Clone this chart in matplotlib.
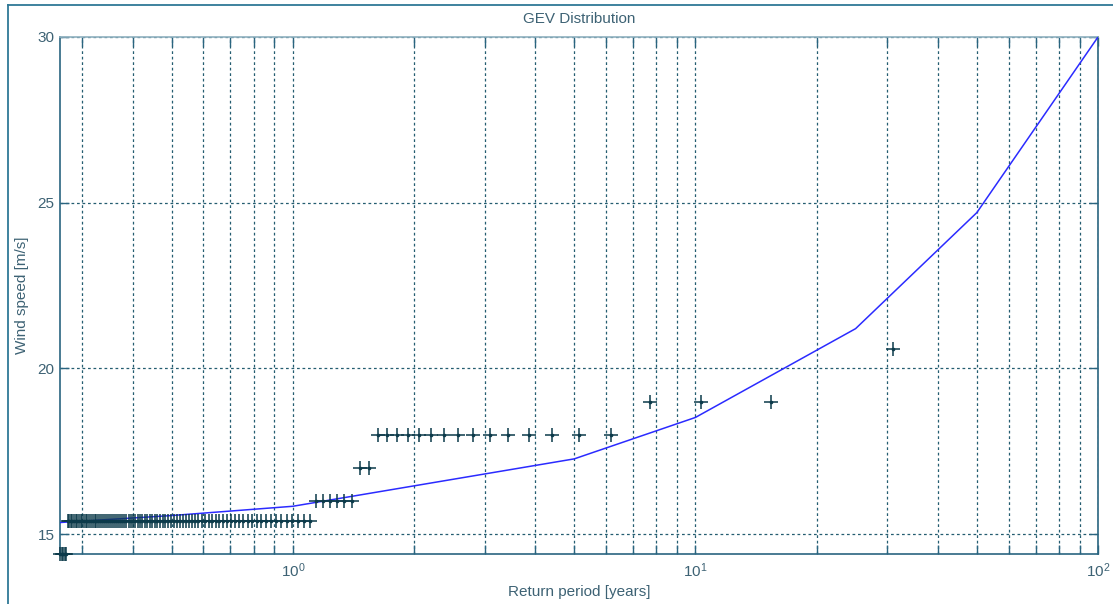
## GEV fit of wind speed extremes vs. empirical return periods
import numpy as np
import matplotlib
matplotlib.use('Agg')
from matplotlib import pyplot as plt
from matplotlib.lines import Line2D
from matplotlib.ticker import FixedLocator, LogLocator, NullFormatter

### Data ###
# observed wind speeds (sorted, largest first) and how often each occurs
speed_levels = [20.6, 19.0, 18.0, 17.0, 16.0, 15.4, 14.4]
level_counts = [1, 3, 15, 2, 6, 85, 5]
RECORD_YEARS = 30.9     # length of record used for the plotting position

# fitted GEV return levels
fit_periods = [0.264, 0.5, 1, 5, 10, 25, 50, 100]
fit_speeds = [15.35, 15.56, 15.84, 17.27, 18.52, 21.2, 24.7, 30.0]

y_ticks = [15, 20, 25, 30]
x_ticks = [1, 10, 100]
x_ticklabels = [r'$\mathregular{10^{0}}$', r'$\mathregular{10^{1}}$', r'$\mathregular{10^{2}}$']
##############

AX_COL = '#2a6580'
TXT_COL = '#3d6274'
GRID_COL = '#245d70'
MARK_COL = '#0c3a4a'

plt.rcParams['font.family'] = ['Liberation Sans', 'DejaVu Sans']
plt.rcParams['font.size'] = 11
plt.rcParams['mathtext.fontset'] = 'custom'
plt.rcParams['mathtext.rm'] = 'Liberation Sans'

speeds = np.repeat(speed_levels, level_counts)
rank = np.arange(1, len(speeds) + 1)
return_period = RECORD_YEARS / rank

fig = plt.figure(figsize=(11.13, 6.04), dpi=100)
ax = fig.add_axes([60/1113, 50/604, 1038/1113, 517/604])

ax.set_xscale('log')
ax.set_xlim(return_period.min(), 100)
ax.set_ylim(14.4, 30)

ax.plot(fit_periods, fit_speeds, color='#2b2bff', lw=1.1, zorder=3)
ax.plot(return_period, speeds, ls='none', marker='+', ms=10, mew=1.1,
        color=MARK_COL, clip_on=False, zorder=4)
ax.plot(return_period, speeds, ls='none', marker='o', ms=2.6, mew=0,
        color=MARK_COL, clip_on=False, zorder=4)

ax.xaxis.set_major_locator(FixedLocator(x_ticks))
ax.set_xticklabels(x_ticklabels)
ax.xaxis.set_minor_locator(LogLocator(base=10, subs=np.arange(2, 10)))
ax.xaxis.set_minor_formatter(NullFormatter())
ax.set_yticks(y_ticks)

ax.grid(True, which='both', axis='x', color=GRID_COL, lw=0.9, ls=(0, (2.2, 2.2)))
ax.grid(True, which='major', axis='y', color=GRID_COL, lw=0.9, ls=(0, (2.2, 2.2)))

ax.tick_params(which='both', direction='in', top=True, right=True,
               length=6.5, width=1, color=AX_COL, labelcolor=TXT_COL, labelsize=11)
ax.tick_params(axis='x', pad=5)
ax.tick_params(axis='y', pad=4)
for name, sp in ax.spines.items():
    sp.set_color(AX_COL)
    sp.set_linewidth(1.2)
ax.spines['top'].set_color('#8fb0bf')

ax.set_title('GEV Distribution', color=TXT_COL, fontsize=11, pad=10)
ax.set_xlabel('Return period [years]', color=TXT_COL, labelpad=4)
ax.set_ylabel('Wind speed [m/s]', color=TXT_COL, labelpad=6)

# panel frame around the plot
fig.add_artist(Line2D([8/1113, 8/1113], [0, 1 - 5/604], color='#2f7896', lw=1.3))
fig.add_artist(Line2D([8/1113, 1], [1 - 5/604, 1 - 5/604], color='#2f7896', lw=1.3))

fig.savefig('out.png', dpi=100)
